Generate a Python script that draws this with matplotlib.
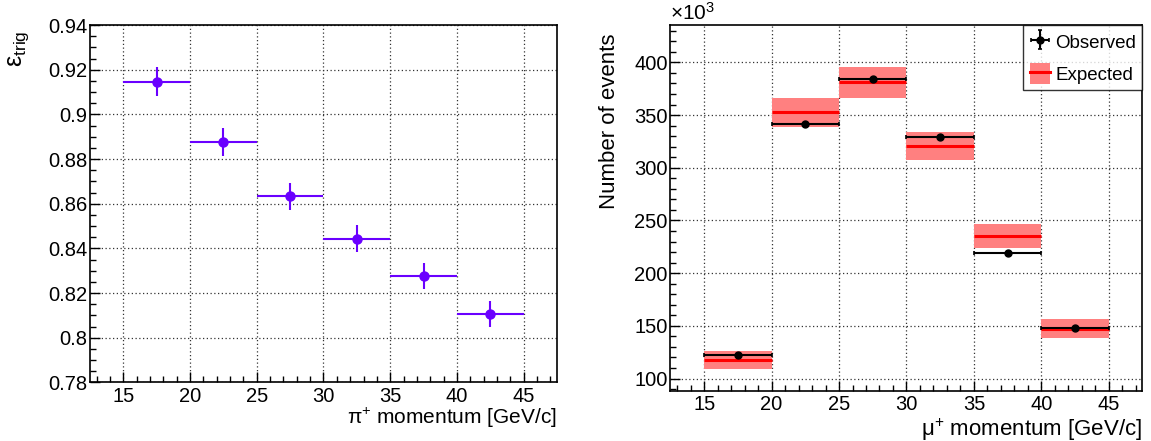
import numpy as np
import matplotlib.pyplot as plt
from matplotlib.lines import Line2D
from matplotlib.patches import Patch
from matplotlib.ticker import MultipleLocator, FormatStrFormatter

plt.rcParams['font.family'] = ['Liberation Sans', 'DejaVu Sans']
plt.rcParams['mathtext.default'] = 'regular'

# bins de momento [GeV/c]
bin_lo = np.array([15, 20, 25, 30, 35, 40])
bin_hi = np.array([20, 25, 30, 35, 40, 45])

# eficiencia del trigger
eff = np.array([0.9146, 0.8876, 0.8634, 0.8443, 0.8276, 0.8108])
eff_err = np.array([0.0065, 0.0062, 0.006, 0.006, 0.0058, 0.0058])

# eventos (x10^3)
observed = np.array([122.4, 341.1, 383.8, 328.8, 218.8, 147.6])
expected = np.array([118.0, 352.5, 381.0, 320.7, 235.2, 147.5])
expected_err = np.array([8.5, 14.0, 14.5, 13.2, 11.5, 9.0])

centers = (bin_lo + bin_hi) / 2
half = (bin_hi - bin_lo) / 2

fig = plt.figure(figsize=(11.51, 4.41), dpi=100)
ax1 = fig.add_axes([0.0782, 0.1327, 0.4057, 0.8106])
ax2 = fig.add_axes([0.5825, 0.1134, 0.4101, 0.8299])


def estilo(ax):
    ax.set_xlim(12.5, 47.5)
    ax.xaxis.set_major_locator(MultipleLocator(5))
    ax.xaxis.set_minor_locator(MultipleLocator(1))
    ax.tick_params(which='both', direction='in', top=False, right=False,
                   labelsize=14.5, width=1.0)
    ax.tick_params(which='major', length=7, pad=3)
    ax.tick_params(axis='y', which='major', pad=2)
    ax.tick_params(which='minor', length=4)
    ax.grid(True, which='major', color='#333333', linestyle=(0, (1, 2)), linewidth=0.9)
    ax.set_axisbelow(True)
    for s in ax.spines.values():
        s.set_linewidth(1.2)


# panel izquierdo
estilo(ax1)
ax1.set_ylim(0.78, 0.94)
ax1.yaxis.set_major_locator(MultipleLocator(0.02))
ax1.yaxis.set_minor_locator(MultipleLocator(0.005))
ax1.yaxis.set_major_formatter(FormatStrFormatter('%g'))
ax1.errorbar(centers, eff, xerr=half, yerr=eff_err, fmt='o', color='#6a00ff',
             markersize=6.5, elinewidth=1.5, capsize=0)
ax1.text(-0.152, 0.985, 'ε$_{trig}$', transform=ax1.transAxes, rotation=90,
         ha='center', va='top', fontsize=18)
ax1.text(1.0, -0.10, 'π$^{+}$ momentum [GeV/c]', transform=ax1.transAxes,
         ha='right', va='center', fontsize=15)

# panel derecho
estilo(ax2)
ax2.set_ylim(88.2, 435.5)
ax2.yaxis.set_major_locator(MultipleLocator(50))
ax2.yaxis.set_minor_locator(MultipleLocator(10))
ax2.yaxis.set_major_formatter(FormatStrFormatter('%g'))
ax2.bar(centers, 2 * expected_err, bottom=expected - expected_err, width=bin_hi - bin_lo,
        color='#ff8080', edgecolor='none', zorder=2)
ax2.hlines(expected, bin_lo, bin_hi, color='red', linewidth=2.2, zorder=3)
ax2.errorbar(centers, observed, xerr=half, yerr=np.zeros_like(observed), fmt='o',
             color='black', markersize=5, elinewidth=1.5, capsize=1.7, capthick=1.2,
             zorder=4, label='Observed')
ax2.text(0.0, 1.003, '×10$^{3}$', transform=ax2.transAxes, ha='left', va='bottom',
         fontsize=15)
ax2.text(-0.13, 0.978, 'Number of events', transform=ax2.transAxes, rotation=90,
         ha='center', va='top', fontsize=16)
ax2.text(1.0, -0.105, 'μ$^{+}$ momentum [GeV/c]', transform=ax2.transAxes,
         ha='right', va='center', fontsize=16)

h_obs = ax2.get_legend_handles_labels()[0][0]
h_exp = (Patch(facecolor='#ff8080', edgecolor='none'), Line2D([], [], color='red', linewidth=2.2))
leg = ax2.legend([h_obs, h_exp], ['Observed', 'Expected'], loc='upper right',
                 bbox_to_anchor=(1.0, 1.0), fontsize=13.5, frameon=True, fancybox=False,
                 borderaxespad=0, handlelength=1.1, handleheight=1.3, handletextpad=0.25,
                 borderpad=0.35, labelspacing=0.6)
leg.get_frame().set_edgecolor('black')
leg.get_frame().set_linewidth(1.0)

fig.savefig('out.png', dpi=100)
